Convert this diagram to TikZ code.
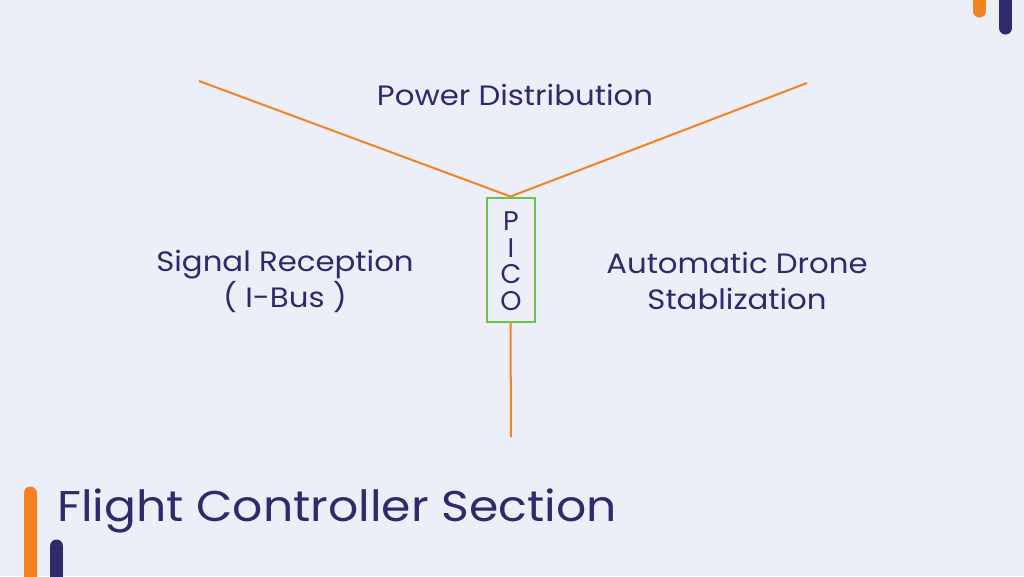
\documentclass[tikz,border=0pt]{standalone}
\usepackage{fontspec}
\setmainfont[FakeStretch=1.1]{Poppins}
\newfontfamily\picofont{Poppins}
\definecolor{bg}{HTML}{ECEEF8}
\definecolor{navy}{HTML}{2E2A6B}
\definecolor{orng}{HTML}{F58220}
\definecolor{grn}{HTML}{6CC24A}
\begin{document}
\begin{tikzpicture}[x=1pt,y=-1pt,
  lbl/.style={text=navy,font=\fontsize{28}{36}\selectfont,align=center,inner sep=0pt},
  conn/.style={draw=orng,line width=2pt},
  bar/.style={line width=13pt,line cap=round}]
\fill[bg] (0,0) rectangle (1024,576);
\useasboundingbox (0,0) rectangle (1024,576);
% decorative bars
\draw[bar,orng] (979.5,-20) -- (979.5,11);
\draw[bar,navy] (1005.5,-20) -- (1005.5,28);
\draw[bar,orng] (30,493) -- (30,600);
\draw[bar,navy] (56.5,546) -- (56.5,600);
% pico box
\node[draw=grn,line width=2pt,minimum width=48pt,minimum height=124pt,inner sep=0pt] (pico) at (510.5,259.5) {};
\node[lbl,font=\picofont\fontsize{27}{26.5}\selectfont] (picotxt) at (511,261) {P\\I\\C\\O};
\coordinate (lt) at (199,81);
\coordinate (rt) at (807,83);
\coordinate (bt) at (511,437);
\draw[conn] (lt) -- (pico.north) -- (rt);
\draw[conn] (pico.south) -- (bt);
\node[lbl] (pd) at (515,95) {Power Distribution};
\node[lbl] (sr) at (285,281) {Signal Reception\\( I-Bus )};
\node[lbl] (ad) at (737,281) {Automatic Drone\\Stablization};
\node[text=navy,font=\fontsize{43}{50}\selectfont,anchor=west,inner sep=0pt] (title) at (57,511) {Flight Controller Section};
\end{tikzpicture}
\end{document}
